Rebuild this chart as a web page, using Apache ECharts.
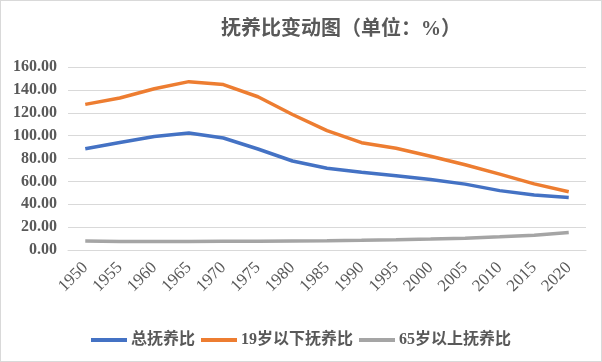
<!DOCTYPE html>
<html><head><meta charset="utf-8">
<script src="https://cdn.jsdelivr.net/npm/echarts@6/dist/echarts.min.js"></script>
<style>html,body{margin:0;padding:0;background:#fff}#c{width:602px;height:362px;box-sizing:border-box;border:1px solid #d9d9d9}</style>
</head><body><div id="c"></div>
<script>
const years = ['1950','1955','1960','1965','1970','1975','1980','1985','1990','1995','2000','2005','2010','2015','2020'];
const totalRatio = [88.6, 94.0, 99.3, 102.3, 97.9, 88.3, 77.8, 71.4, 67.9, 65.0, 61.7, 57.6, 51.9, 48.0, 46.0];
const under19Ratio = [127.3, 132.9, 141.0, 147.2, 144.6, 134.0, 118.5, 104.3, 93.8, 88.9, 82.0, 74.5, 66.3, 57.8, 51.0];
const over65Ratio = [7.8, 7.5, 7.4, 7.5, 7.6, 7.7, 7.9, 8.1, 8.5, 9.0, 9.6, 10.3, 11.5, 13.0, 15.3];
const yTicks = [0, 20, 40, 60, 80, 100, 120, 140, 160];
const seriesNames = ['总抚养比', '19岁以下抚养比', '65岁以上抚养比'];
const colors = ['#4472c4', '#ed7d31', '#a5a5a5'];

const FONT = '"Liberation Serif", "Noto Sans CJK SC", serif';
const chart = echarts.init(document.getElementById('c'), null, {renderer: 'canvas'});
chart.setOption({
  animation: false,
  color: colors,
  title: {
    text: '抚养比变动图（单位：%）',
    left: 335, top: 14, textAlign: 'center',
    textStyle: {fontFamily: FONT, fontSize: 20, fontWeight: 'bold', color: '#595959'}
  },
  legend: {
    top: 326, left: 'center', itemGap: 6, itemWidth: 36, itemHeight: 4,
    icon: 'rect',
    textStyle: {fontFamily: FONT, fontSize: 16, fontWeight: 'bold', color: '#595959', padding: [0,0,0,-1]},
    data: seriesNames
  },
  grid: {left: 67, right: 15, top: 66, bottom: 111},
  xAxis: {
    type: 'category', data: years, boundaryGap: true,
    axisLine: {lineStyle: {color: '#d9d9d9'}},
    axisTick: {show: false},
    axisLabel: {rotate: 45, fontFamily: FONT, fontSize: 17, color: '#595959', margin: 15}
  },
  yAxis: {
    type: 'value', min: yTicks[0], max: yTicks[yTicks.length-1], interval: 20,
    axisLine: {show: false}, axisTick: {show: false},
    splitLine: {lineStyle: {color: '#d9d9d9'}},
    axisLabel: {fontFamily: FONT, fontSize: 16, fontWeight: 'bold', color: '#595959', margin: 11,
      formatter: v => v.toFixed(2)}
  },
  series: [
    {name: seriesNames[0], type: 'line', data: totalRatio, symbol: 'none', lineStyle: {width: 3.5}},
    {name: seriesNames[1], type: 'line', data: under19Ratio, symbol: 'none', lineStyle: {width: 3.5}},
    {name: seriesNames[2], type: 'line', data: over65Ratio, symbol: 'none', lineStyle: {width: 3.5}}
  ]
});
</script></body></html>
